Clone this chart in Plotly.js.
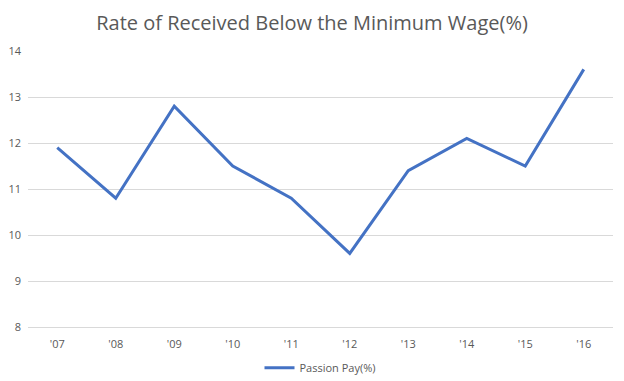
<!DOCTYPE html>
<html><head><meta charset="utf-8">
<script src="https://cdn.plot.ly/plotly-3.0.1.min.js"></script>
<style>html,body{margin:0;padding:0;background:#fff}#chart{width:624px;height:381px}</style>
</head><body><div id="chart"></div>
<script>
const categories = ["'07","'08","'09","'10","'11","'12","'13","'14","'15","'16"];
const passionPay = [11.9, 10.8, 12.8, 11.5, 10.8, 9.6, 11.4, 12.1, 11.5, 13.6];
const seriesName = "Passion Pay(%)";

Plotly.newPlot('chart', [{
  x: categories, y: passionPay, type: 'scatter', mode: 'lines', name: seriesName,
  line: {color: '#4472C4', width: 3}
}], {
  width: 624, height: 381,
  margin: {l: 28, r: 11, t: 51, b: 54, autoexpand: false},
  paper_bgcolor: '#fff', plot_bgcolor: '#fff',
  font: {family: 'Open Sans, sans-serif', color: '#595959', size: 11},
  title: {text: 'Rate of Received Below the Minimum Wage(%)', x: 0.5, xanchor: 'center', y: 0.94, yanchor: 'middle',
          font: {size: 20, color: '#595959', family: 'Open Sans, sans-serif'}},
  xaxis: {type: 'category', showgrid: false, zeroline: false, showline: true, linecolor: '#d9d9d9', linewidth: 1, ticks: '', ticklabelstandoff: 7, automargin: false, tickfont: {size: 11, color: '#595959'}, range: [-0.5, 9.5]},
  yaxis: {range: [8, 14], dtick: 1, showgrid: true, gridcolor: '#d9d9d9', gridwidth: 1, zeroline: false, showline: false, ticks: '', ticklabelstandoff: 6, automargin: false, tickfont: {size: 11, color: '#595959'}},
  showlegend: true,
  legend: {orientation: 'h', x: 0.5, xanchor: 'center', yref: 'container', y: 0.035, yanchor: 'middle', font: {size: 11, color: '#595959'}}
}, {displayModeBar: false, staticPlot: true});
</script></body></html>
